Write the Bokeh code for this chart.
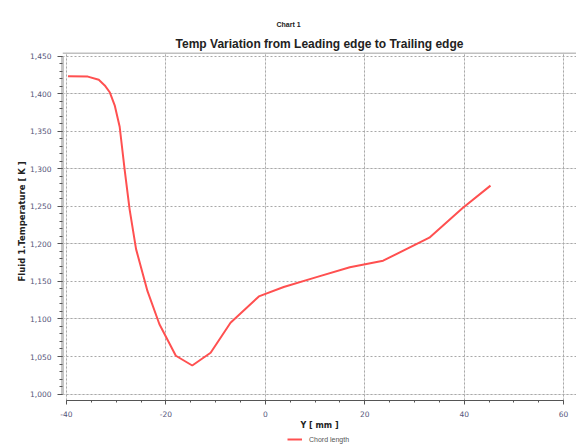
from bokeh.plotting import figure
from bokeh.layouts import column
from bokeh.models import (Range1d, LinearAxis, Title, Legend, LegendItem, Span,
                          FixedTicker, NumeralTickFormatter, Grid)
from bokeh.embed import file_html
from bokeh.resources import INLINE

# ---- data ----
y_mm = [-39.7, -35.7, -33.5, -32.3, -31.3, -30.3, -29.3, -28.3, -27.3, -26.0,
        -23.7, -21.3, -18.0, -14.7, -11.0, -7.0, -1.3, 3.7, 10.3, 17.0, 23.7,
        33.0, 39.7, 45.3]
temp_k = [1423.3, 1422.8, 1418.5, 1411.0, 1402.0, 1384.6, 1356.0, 1299.0,
          1246.0, 1193.0, 1137.0, 1093.0, 1051.0, 1038.0, 1055.0, 1095.0,
          1130.0, 1142.5, 1155.7, 1168.9, 1177.6, 1208.3, 1247.8, 1277.6]
x_ticks = [-40, -20, 0, 20, 40, 60]
x_minor = list(range(-40, 61, 5))
y_ticks = list(range(1000, 1451, 50))
y_minor = list(range(1000, 1451, 10))
series_name = "Chord length"

LABEL_COLOR = "#55557a"
GRID_COLOR = "#a8a8a8"
LINE_COLOR = "#ff5050"

p = figure(width=576, height=432, output_backend="svg", toolbar_location=None,
           x_range=Range1d(-40.8, 62.6), y_range=Range1d(991.4, 1454.9),
           x_axis_location=None, y_axis_location=None,
           min_border_left=62, min_border_right=0, min_border_top=52,
           min_border_bottom=30)
p.outline_line_color = None
p.background_fill_color = "white"

# axes
xaxis = LinearAxis(ticker=FixedTicker(ticks=x_ticks, minor_ticks=x_minor),
                   bounds=(-40, 60), axis_label="Y [ mm ]",
                   formatter=NumeralTickFormatter(format="0"))
xaxis.axis_line_color = "#555555"
xaxis.axis_line_width = 1
xaxis.major_tick_line_color = "#555555"
xaxis.major_tick_out = 4
xaxis.major_tick_in = 0
xaxis.minor_tick_line_color = "#555555"
xaxis.minor_tick_out = 2
xaxis.minor_tick_in = 0
xaxis.major_label_text_font = "DejaVu Sans"
xaxis.major_label_text_font_size = "7.5px"
xaxis.major_label_text_color = LABEL_COLOR
xaxis.major_label_standoff = 6
xaxis.axis_label_text_font = "DejaVu Sans"
xaxis.axis_label_text_font_size = "8px"
xaxis.axis_label_text_font_style = "bold"
xaxis.axis_label_text_color = "#222222"
xaxis.axis_label_standoff = 1
p.add_layout(xaxis, "below")

yaxis = LinearAxis(ticker=FixedTicker(ticks=y_ticks, minor_ticks=y_minor),
                   bounds=(1000, 1450),
                   formatter=NumeralTickFormatter(format="0,0"))
yaxis.axis_line_color = "#c4c4c4"
yaxis.axis_line_width = 3
yaxis.major_tick_line_color = "#555555"
yaxis.major_tick_out = 5
yaxis.major_tick_in = 0
yaxis.minor_tick_line_color = "#555555"
yaxis.minor_tick_out = 3
yaxis.minor_tick_in = 0
yaxis.major_label_text_font = "DejaVu Sans"
yaxis.major_label_text_font_size = "7.5px"
yaxis.major_label_text_color = LABEL_COLOR
yaxis.major_label_standoff = 6
p.add_layout(yaxis, "left")

# grids
p.add_layout(Grid(dimension=0, ticker=xaxis.ticker, grid_line_color=GRID_COLOR,
                  grid_line_dash="2 2", grid_line_width=1))
p.add_layout(Grid(dimension=1, ticker=yaxis.ticker, grid_line_color=GRID_COLOR,
                  grid_line_dash="2 2", grid_line_width=1))

# top frame border
p.add_layout(Span(location=1454.2, dimension="width", line_color="#c0c0c0",
                  line_width=2))

# data line
r = p.line(y_mm, temp_k, line_color=LINE_COLOR, line_width=2)

# y axis title on the left
p.add_layout(Title(text="Fluid 1.Temperature [ K ]", align="left", offset=119,
                   text_font="DejaVu Sans", text_font_size="8.5px",
                   text_font_style="bold", text_color="#222222", standoff=2),
             "left")

# titles
p.add_layout(Title(text="Temp Variation from Leading edge to Trailing edge",
                   align="center", text_font="Liberation Sans",
                   text_font_size="12px", text_font_style="bold",
                   text_color="#222222", standoff=3),
             "above")
p.add_layout(Title(text="Chart 1", align="left", offset=214,
                   text_font="Liberation Sans", text_font_size="7px",
                   text_font_style="bold", text_color="#222222", standoff=11),
             "above")

# legend strip below the chart (the series is drawn out of view; only its
# legend entry shows)
p2 = figure(width=576, height=12, output_backend="svg", toolbar_location=None,
            x_range=Range1d(0, 1), y_range=Range1d(0, 1),
            x_axis_location=None, y_axis_location=None, min_border=0)
p2.outline_line_color = None
p2.xgrid.visible = False
p2.ygrid.visible = False
r2 = p2.line(y_mm, temp_k, line_color=LINE_COLOR, line_width=2)
legend = Legend(items=[LegendItem(label=series_name, renderers=[r2])],
                location=(225, 1), orientation="horizontal")
legend.label_text_font = "Liberation Sans"
legend.label_text_font_size = "7px"
legend.label_text_color = "#555555"
legend.glyph_width = 15
legend.glyph_height = 8
legend.label_height = 8
legend.label_standoff = 7
legend.padding = 0
legend.margin = 0
legend.spacing = 0
legend.border_line_color = None
legend.background_fill_alpha = 0
p2.add_layout(legend)

layout = column(p, p2, spacing=0)
open("out.html", "w").write(file_html(layout, INLINE))
